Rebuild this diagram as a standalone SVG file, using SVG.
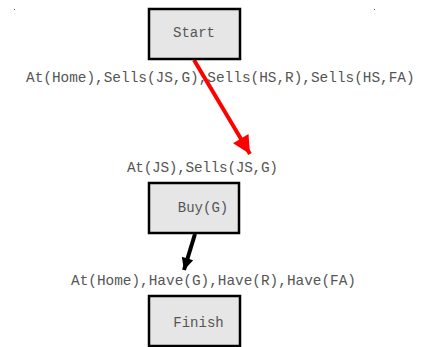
<svg xmlns="http://www.w3.org/2000/svg" width="422" height="347" viewBox="0 0 422 347">
<style>
.box{fill:#e6e6e6;stroke:#000;stroke-width:2.5}
.t{font-family:"Liberation Mono","Courier New",monospace;font-size:14px;fill:#555}
.lbl{font-family:"Liberation Mono","Courier New",monospace;font-size:14.4px;fill:#555}
</style>
<defs>
<marker id="ar" viewBox="0 0 10 10" refX="10" refY="5" markerWidth="5" markerHeight="4.5" markerUnits="strokeWidth" orient="auto"><path d="M0,0 L10,5 L0,10 z" fill="red"/></marker>
<marker id="ab" viewBox="0 0 10 10" refX="10" refY="5" markerWidth="4.5" markerHeight="3" markerUnits="strokeWidth" orient="auto"><path d="M0,0 L10,5 L0,10 z" fill="#000"/></marker>
</defs>
<rect x="14" y="9" width="1" height="1" fill="#666"/>
<rect x="374" y="9" width="1" height="1" fill="#666"/>
<text class="lbl" x="26" y="82">At(Home),Sells(JS,G),Sells(HS,R),Sells(HS,FA)</text>
<text class="lbl" x="127" y="172" textLength="151">At(JS),Sells(JS,G)</text>
<text class="lbl" x="71" y="285">At(Home),Have(G),Have(R),Have(FA)</text>
<g id="connectors">
<line x1="194" y1="60" x2="250" y2="154" stroke="red" stroke-width="4" marker-end="url(#ar)"/>
<line x1="195" y1="234" x2="184" y2="270" stroke="#000" stroke-width="4" marker-end="url(#ab)"/>
</g>
<g id="start"><rect class="box" x="149" y="9" width="91" height="50"/><text class="t" x="194" y="37" text-anchor="middle">Start</text></g>
<g id="buy"><rect class="box" x="149" y="183" width="90" height="50"/><text class="t" x="203" y="212" text-anchor="middle">Buy(G)</text></g>
<g id="finish"><rect class="box" x="149" y="296" width="91" height="50"/><text class="t" x="198.5" y="327" text-anchor="middle">Finish</text></g>
</svg>
